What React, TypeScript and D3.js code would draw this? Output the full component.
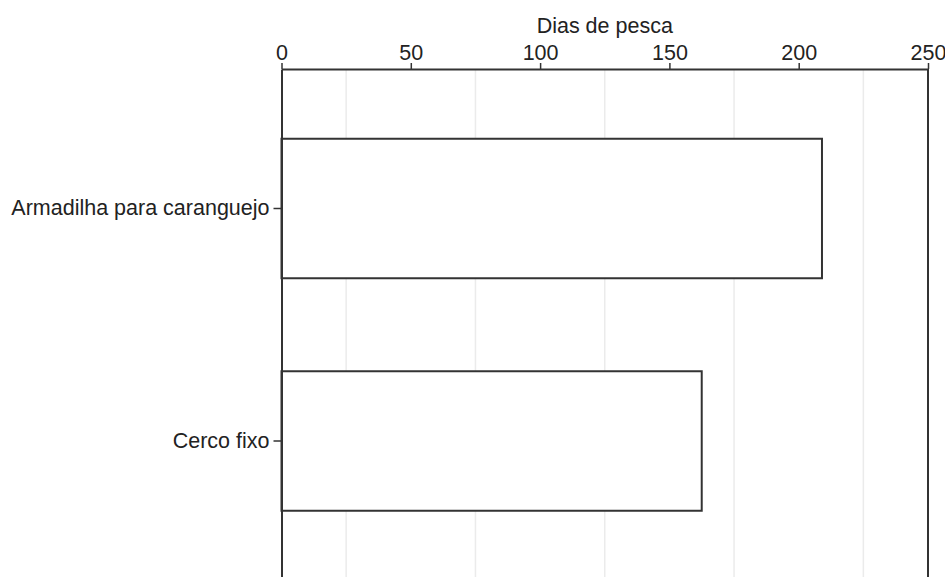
import React, { useRef, useEffect } from 'react';
import * as d3 from 'd3';

const categories = ['Armadilha para caranguejo', 'Cerco fixo'];
const fishingDays = [209, 162.5];
const tickValues = [0, 50, 100, 150, 200, 250];
const gridValues = [25, 75, 125, 175, 225];
const axisTitle = 'Dias de pesca';

export default function App() {
  const svgRef = useRef<SVGSVGElement | null>(null);
  const width = 945;
  const height = 577;

  useEffect(() => {
    const svg = d3.select(svgRef.current);
    svg.selectAll('*').remove();

    const margin = { top: 69, left: 281.5, right: 17 };
    const plotBottom = 580.5;
    const font = '"Liberation Sans", Arial, sans-serif';
    const fontSize = '21.5px';

    const x = d3.scaleLinear().domain([0, 250]).range([margin.left, width - margin.right]);
    const y = d3.scaleBand<string>()
      .domain(categories)
      .range([margin.top, plotBottom])
      .paddingInner(0.4)
      .paddingOuter(0.3);

    // light grid lines between the major ticks
    svg.append('g')
      .selectAll('line')
      .data(gridValues)
      .enter()
      .append('line')
      .attr('x1', d => x(d))
      .attr('x2', d => x(d))
      .attr('y1', margin.top)
      .attr('y2', plotBottom)
      .attr('stroke', '#ebebeb')
      .attr('stroke-width', 1.5);

    // bars
    svg.append('g')
      .selectAll('rect')
      .data(categories)
      .enter()
      .append('rect')
      .attr('x', x(0))
      .attr('y', d => y(d)!)
      .attr('width', (d, i) => x(fishingDays[i]) - x(0))
      .attr('height', y.bandwidth())
      .attr('fill', '#ffffff')
      .attr('stroke', '#333333')
      .attr('stroke-width', 2);

    // right edge of panel
    svg.append('line')
      .attr('x1', x(250))
      .attr('x2', x(250))
      .attr('y1', margin.top)
      .attr('y2', plotBottom)
      .attr('stroke', '#333333')
      .attr('stroke-width', 2);

    // top axis
    const xAxis = svg.append('g')
      .attr('transform', `translate(0,${margin.top})`)
      .call(d3.axisTop(x).tickValues(tickValues).tickSize(6).tickPadding(3).tickSizeOuter(0));
    xAxis.select('.domain').attr('stroke', '#333333').attr('stroke-width', 2);
    xAxis.selectAll('.tick line').attr('stroke', '#333333').attr('stroke-width', 1.5);
    xAxis.selectAll('.tick text')
      .attr('fill', '#222222')
      .style('font-family', font)
      .style('font-size', fontSize);

    // left axis
    const yAxis = svg.append('g')
      .attr('transform', `translate(${margin.left},0)`)
      .call(d3.axisLeft(y).tickSize(8).tickPadding(4).tickSizeOuter(0));
    yAxis.select('.domain').attr('stroke', '#333333').attr('stroke-width', 2);
    yAxis.selectAll('.tick line').attr('stroke', '#333333').attr('stroke-width', 1.5);
    yAxis.selectAll('.tick text')
      .attr('fill', '#222222')
      .style('font-family', font)
      .style('font-size', fontSize);

    // axis title
    svg.append('text')
      .attr('x', (x(0) + x(250)) / 2)
      .attr('y', 33)
      .attr('text-anchor', 'middle')
      .attr('fill', '#222222')
      .style('font-family', font)
      .style('font-size', fontSize)
      .text(axisTitle);
  }, []);

  return (
    <svg
      ref={svgRef}
      width={width}
      height={height}
      style={{ position: 'absolute', left: 0, top: 0, background: '#ffffff' }}
    />
  );
}
